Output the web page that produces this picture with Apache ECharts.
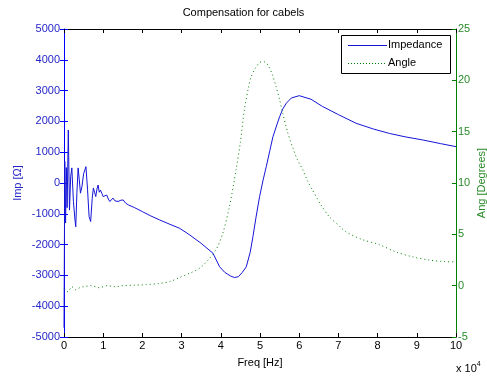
<!DOCTYPE html>
<html>
<head>
<meta charset="utf-8">
<script src="https://cdn.jsdelivr.net/npm/echarts@6/dist/echarts.min.js"></script>
<style>html,body{margin:0;padding:0;background:#fff}#c{width:487px;height:377px}</style>
</head>
<body>
<div id="c"></div>
<script>
// Frequency in units of 10^4 Hz
var impFreq = [0,0.02,0.04,0.06,0.08,0.11,0.14,0.17,0.2,0.24,0.28,0.3,0.33,0.36,0.39,0.42,0.46,0.5,0.56,0.6,0.64,0.68,0.72,0.75,0.78,0.81,0.84,0.87,0.9,0.93,0.97,1.0,1.05,1.09,1.13,1.17,1.21,1.25,1.3,1.38,1.45,1.51,1.57,1.64,1.8,2.0,2.2,2.44,2.7,2.95,3.2,3.5,3.8,3.97,4.1,4.25,4.35,4.45,4.55,4.65,4.75,4.82,4.9,4.99,5.08,5.16,5.25,5.33,5.42,5.5,5.58,5.67,5.8,6.0,6.3,6.6,7.0,7.45,7.9,8.3,8.7,9.14,9.6,10];
var impValues = [-4700,700,-1300,500,-800,1720,-880,200,490,-600,-1200,-1420,-300,490,100,-330,-100,300,530,-200,-1090,-1250,-500,-160,-300,-440,-200,-65,-300,-230,-350,-440,-380,-390,-520,-600,-540,-490,-580,-600,-560,-550,-650,-710,-800,-930,-1060,-1200,-1340,-1470,-1680,-1960,-2280,-2720,-2900,-3020,-3070,-3040,-2900,-2720,-2250,-1740,-1100,-440,100,530,1050,1500,1850,2150,2400,2590,2760,2835,2720,2480,2220,1940,1750,1610,1500,1400,1280,1180];
var angFreq = [0,0.1,0.2,0.3,0.4,0.5,0.7,0.9,1.1,1.3,1.5,1.8,2.1,2.4,2.7,2.95,3.2,3.46,3.7,3.88,4.05,4.22,4.39,4.5,4.6,4.7,4.77,4.9,5.03,5.12,5.2,5.3,5.41,5.5,5.58,5.7,5.83,5.95,6.09,6.2,6.34,6.55,6.77,7.0,7.19,7.6,8.04,8.46,8.9,9.31,9.7,10];
var angValues = [-0.3,-0.6,-0.1,-0.4,-0.2,-0.1,0,-0.2,0,-0.1,0,0.05,0.1,0.2,0.4,0.8,1.2,1.7,2.6,3.5,5.1,7.7,11.3,14.0,17.1,19.2,20.3,21.3,21.8,21.8,21.5,20.7,19.4,18.1,16.8,15.0,13.5,12.3,11.3,10.3,9.3,7.9,6.7,5.9,5.25,4.5,4.0,3.3,2.8,2.5,2.35,2.3];
var xTicks = [0,1,2,3,4,5,6,7,8,9,10];
var impTicks = [-5000,-4000,-3000,-2000,-1000,0,1000,2000,3000,4000,5000];
var angTicks = [-5,0,5,10,15,20,25];
var legendNames = ['Impedance', 'Angle'];

var BLUE = '#0000ff', BLUE_T = '#2626c8', GREEN = '#008000', GREEN_T = '#2a8a2a';
var IMP_LINE = '#1515d8';
var FONT = 'Liberation Sans, Arial, sans-serif';

function pairs(xs, ys){ return xs.map(function(x,i){ return [x, ys[i]]; }); }

var chart = echarts.init(document.getElementById('c'), null, {renderer:'canvas'});
chart.setOption({
  animation: false,
  backgroundColor: '#ffffff',
  title: {
    text: 'Compensation for cabels',
    left: 'center', top: 2,
    textStyle: {fontSize: 11, fontWeight: 'normal', color: '#000', fontFamily: FONT}
  },
  grid: {left: 64, right: 31, top: 29, bottom: 40, containLabel: false, outerBoundsMode: 'none'},
  xAxis: [{
    type: 'value', min: 0, max: 10, interval: 1, position: 'bottom',
    name: 'Freq [Hz]', nameLocation: 'middle', nameGap: 20, nameMoveOverlap: false,
    nameTextStyle: {fontSize: 11, color: '#000', fontFamily: FONT},
    axisLine: {show: true, onZero: false, lineStyle: {color: '#000', width: 1}},
    axisTick: {show: true, inside: true, length: 4, lineStyle: {color: '#000'}},
    axisLabel: {fontSize: 11, color: '#000', margin: 3, fontFamily: FONT,
      formatter: function(v){ return xTicks.indexOf(v) >= 0 ? String(v) : ''; }},
    splitLine: {show: false}
  }, {
    type: 'value', min: 0, max: 10, interval: 1, position: 'top',
    axisLine: {show: true, onZero: false, lineStyle: {color: '#000', width: 1}},
    axisTick: {show: true, inside: true, length: 4, lineStyle: {color: '#000'}},
    axisLabel: {show: false}, splitLine: {show: false}
  }],
  yAxis: [{
    type: 'value', min: -5000, max: 5000, interval: 1000, position: 'left',
    name: 'Imp [Ω]', nameLocation: 'middle', nameGap: 41, nameMoveOverlap: false,
    nameTextStyle: {fontSize: 11, color: BLUE_T, fontFamily: FONT},
    axisLine: {show: true, onZero: false, lineStyle: {color: BLUE, width: 1}},
    axisTick: {show: true, inside: true, length: 4, lineStyle: {color: BLUE}},
    axisLabel: {fontSize: 11, color: BLUE_T, margin: 4, fontFamily: FONT,
      formatter: function(v){ return impTicks.indexOf(v) >= 0 ? String(v) : ''; }},
    splitLine: {show: false}
  }, {
    type: 'value', min: -5, max: 25, interval: 5, position: 'right',
    name: 'Ang [Degrees]', nameLocation: 'middle', nameGap: 20, nameRotate: 90, nameMoveOverlap: false,
    nameTextStyle: {fontSize: 11, color: GREEN_T, fontFamily: FONT},
    axisLine: {show: true, onZero: false, lineStyle: {color: GREEN, width: 1}},
    axisTick: {show: true, inside: true, length: 4, lineStyle: {color: GREEN}},
    axisLabel: {fontSize: 11, color: GREEN_T, margin: 2, fontFamily: FONT,
      formatter: function(v){ return angTicks.indexOf(v) >= 0 ? String(v) : ''; }},
    splitLine: {show: false}
  }, {
    type: 'value', min: -5000, max: 5000, interval: 1000, position: 'right',
    axisLine: {show: false},
    axisTick: {show: true, inside: true, length: 4, lineStyle: {color: BLUE}},
    axisLabel: {show: false}, splitLine: {show: false}
  }],
  graphic: [{
    type: 'text', left: 456, top: 361,
    style: {
      text: 'x 10{s|4}',
      rich: {s: {fontSize: 7, verticalAlign: 'top', padding: [0,0,8,0], fontFamily: FONT}},
      fontSize: 11, fontFamily: FONT, fill: '#000'
    }
  }, {
    type: 'group', left: 341, top: 35,
    children: [{
      type: 'rect', shape: {x: 0.5, y: 0.5, width: 109, height: 38},
      style: {fill: '#fff', stroke: '#000', lineWidth: 1}
    }, {
      type: 'line', shape: {x1: 7, y1: 10.5, x2: 46, y2: 10.5},
      style: {stroke: IMP_LINE, lineWidth: 1}
    }, {
      type: 'text', x: 47, y: 4,
      style: {text: legendNames[0], fontSize: 11, fontFamily: FONT, fill: '#000'}
    }, {
      type: 'line', shape: {x1: 7, y1: 28.5, x2: 46, y2: 28.5},
      style: {stroke: GREEN, lineWidth: 1, lineDash: [1, 2]}
    }, {
      type: 'text', x: 47, y: 22,
      style: {text: legendNames[1], fontSize: 11, fontFamily: FONT, fill: '#000'}
    }]
  }],
  series: [{
    name: 'Impedance', type: 'line', xAxisIndex: 0, yAxisIndex: 0,
    data: pairs(impFreq, impValues),
    symbol: 'none', smooth: false,
    lineStyle: {color: IMP_LINE, width: 1},
    itemStyle: {color: IMP_LINE}
  }, {
    name: 'Angle', type: 'line', xAxisIndex: 0, yAxisIndex: 1,
    data: pairs(angFreq, angValues),
    symbol: 'none', smooth: 0.3,
    lineStyle: {color: GREEN, width: 1, type: [1, 3]},
    itemStyle: {color: GREEN}
  }]
});
</script>
</body>
</html>
